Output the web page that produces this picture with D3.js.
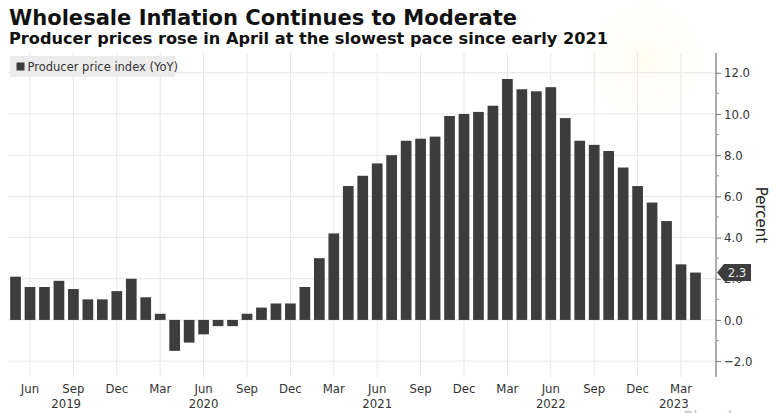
<!DOCTYPE html>
<html>
<head>
<meta charset="utf-8">
<script src="https://cdn.jsdelivr.net/npm/d3@7"></script>
<style>
  body { margin: 0; background: #fff; }
  svg { display: block; font-family: "DejaVu Sans", sans-serif; }
</style>
</head>
<body>
<svg id="chart" width="776" height="413"></svg>
<script>
// months May 2019 .. Apr 2023
var months = d3.timeMonth.range(new Date(2019, 4, 1), new Date(2023, 4, 1));

// Producer price index, YoY %
var ppi = [2.1, 1.6, 1.6, 1.9, 1.5, 1.0, 1.0, 1.4, 2.0, 1.1,
           0.3, -1.5, -1.1, -0.7, -0.3, -0.3, 0.3, 0.6, 0.8, 0.8,
           1.6, 3.0, 4.2, 6.5, 7.0, 7.6, 8.0, 8.7, 8.8, 8.9,
           9.9, 10.0, 10.1, 10.4, 11.7, 11.2, 11.1, 11.3, 9.8, 8.7,
           8.5, 8.2, 7.4, 6.5, 5.7, 4.8, 2.7, 2.3];

var yTicks = [-2, 0, 2, 4, 6, 8, 10, 12];
var yMinor = [-1, 1, 3, 5, 7, 9, 11];
var quarterMonths = [2, 5, 8, 11]; // Mar, Jun, Sep, Dec
var years = [2019, 2020, 2021, 2022, 2023];

var svg = d3.select("#chart");
var fmtMonth = d3.timeFormat("%b");

var x = d3.scaleBand()
    .domain(months.map(function (d) { return +d; }))
    .range([8.3, 702.7])
    .paddingInner(0.26)
    .paddingOuter(0.13);

var y = d3.scaleLinear()
    .domain([-2.77, 12.96])
    .range([377, 53]);

var axisX = 716;
var plotTop = 53, plotBottom = 377;

function cx(d) { return x(+d) + x.bandwidth() / 2; }

// very faint glow top right
var defs = svg.append("defs");
var grad = defs.append("radialGradient").attr("id", "glow");
grad.append("stop").attr("offset", "0%").attr("stop-color", "#fffcee");
grad.append("stop").attr("offset", "100%").attr("stop-color", "#ffffff").attr("stop-opacity", 0);
svg.append("circle").attr("cx", 645).attr("cy", 60).attr("r", 75).attr("fill", "url(#glow)");

// title
svg.append("text")
    .attr("x", 9).attr("y", 25)
    .attr("font-size", 21).attr("font-weight", "bold")
    .attr("textLength", 508).attr("lengthAdjust", "spacingAndGlyphs")
    .attr("fill", "#111")
    .text("Wholesale Inflation Continues to Moderate");

svg.append("text")
    .attr("x", 9).attr("y", 44)
    .attr("font-size", 16.5).attr("font-weight", "bold")
    .attr("textLength", 599).attr("lengthAdjust", "spacingAndGlyphs")
    .attr("fill", "#111")
    .text("Producer prices rose in April at the slowest pace since early 2021");

// grid
var quarters = months.filter(function (d) { return quarterMonths.indexOf(d.getMonth()) !== -1; });

svg.append("g").selectAll("line")
    .data(quarters)
    .enter().append("line")
    .attr("x1", cx).attr("x2", cx)
    .attr("y1", plotTop).attr("y2", plotBottom)
    .attr("stroke", "#e6e6e6").attr("stroke-width", 1);

svg.append("g").selectAll("line")
    .data(yTicks)
    .enter().append("line")
    .attr("x1", 8).attr("x2", axisX)
    .attr("y1", function (d) { return y(d); })
    .attr("y2", function (d) { return y(d); })
    .attr("stroke", "#e6e6e6").attr("stroke-width", 1);

// legend
svg.append("rect")
    .attr("x", 10).attr("y", 56).attr("width", 165).attr("height", 21)
    .attr("fill", "#ececec");
svg.append("rect")
    .attr("x", 16.5).attr("y", 62.5).attr("width", 8).attr("height", 8)
    .attr("fill", "#3d3d3d");
svg.append("text")
    .attr("x", 27.5).attr("y", 71)
    .attr("font-size", 11.5).attr("fill", "#333")
    .text("Producer price index (YoY)");

// bars
svg.append("g").selectAll("rect")
    .data(ppi)
    .enter().append("rect")
    .attr("x", function (d, i) { return x(+months[i]); })
    .attr("width", x.bandwidth())
    .attr("y", function (d) { return y(Math.max(0, d)); })
    .attr("height", function (d) { return Math.abs(y(d) - y(0)); })
    .attr("fill", "#3d3d3d");

// right axis
var yAxis = d3.axisRight(y)
    .tickValues(yTicks)
    .tickSize(5)
    .tickPadding(3)
    .tickFormat(d3.format(".1f"));

var ga = svg.append("g")
    .attr("transform", "translate(" + axisX + ",0)")
    .call(yAxis);
ga.select(".domain").remove();
ga.selectAll("text").attr("font-size", 13).attr("fill", "#333")
    .attr("font-family", "DejaVu Sans Condensed, DejaVu Sans, sans-serif");
ga.selectAll("line").attr("stroke", "#777");

svg.append("line")
    .attr("x1", axisX).attr("x2", axisX)
    .attr("y1", plotTop).attr("y2", plotBottom)
    .attr("stroke", "#777").attr("stroke-width", 1.2);

svg.append("g").selectAll("line")
    .data(yMinor)
    .enter().append("line")
    .attr("x1", axisX).attr("x2", axisX + 3)
    .attr("y1", function (d) { return y(d); })
    .attr("y2", function (d) { return y(d); })
    .attr("stroke", "#999");

svg.append("text")
    .attr("transform", "translate(756,215) rotate(90)")
    .attr("text-anchor", "middle")
    .attr("font-size", 15).attr("fill", "#222")
    .text("Percent");

// last value tag
var last = ppi[ppi.length - 1];
var ly = y(last);
svg.append("path")
    .attr("d", "M" + (axisX + 1) + "," + ly +
        "L" + (axisX + 8) + "," + (ly - 8.5) +
        "L" + (axisX + 35) + "," + (ly - 8.5) +
        "L" + (axisX + 35) + "," + (ly + 8.5) +
        "L" + (axisX + 8) + "," + (ly + 8.5) + "Z")
    .attr("fill", "#3d3d3d");
svg.append("text")
    .attr("x", axisX + 21).attr("y", ly + 4.5)
    .attr("text-anchor", "middle")
    .attr("font-size", 13).attr("fill", "#e8e8e8")
    .attr("font-family", "DejaVu Sans Condensed, DejaVu Sans, sans-serif")
    .text(d3.format(".1f")(last));

// x labels
svg.append("g").selectAll("text")
    .data(quarters)
    .enter().append("text")
    .attr("x", cx).attr("y", 393)
    .attr("text-anchor", "middle")
    .attr("font-size", 13).attr("fill", "#333")
    .attr("font-family", "DejaVu Sans Condensed, DejaVu Sans, sans-serif")
    .text(function (d) { return fmtMonth(d); });

// year labels: centred on June for full years, else on visible span
function yearX(yr) {
    var ms = months.filter(function (d) { return d.getFullYear() === yr; });
    if (ms.length === 12) return cx(ms[5]);
    var a = x(+ms[0]) - x.step() * x.paddingInner() / 2;
    var b = x(+ms[ms.length - 1]) + x.bandwidth() + x.step() * x.paddingInner() / 2;
    return (a + b) / 2;
}

svg.append("g").selectAll("text")
    .data(years)
    .enter().append("text")
    .attr("x", yearX).attr("y", 408)
    .attr("text-anchor", "middle")
    .attr("font-size", 13).attr("fill", "#333")
    .attr("font-family", "DejaVu Sans Condensed, DejaVu Sans, sans-serif")
    .text(function (d) { return d; });

// watermark, cut off at bottom
svg.append("text")
    .attr("x", 684).attr("y", 421)
    .attr("font-size", 14).attr("fill", "#bbb")
    .text("Bloomberg");
</script>
</body>
</html>
